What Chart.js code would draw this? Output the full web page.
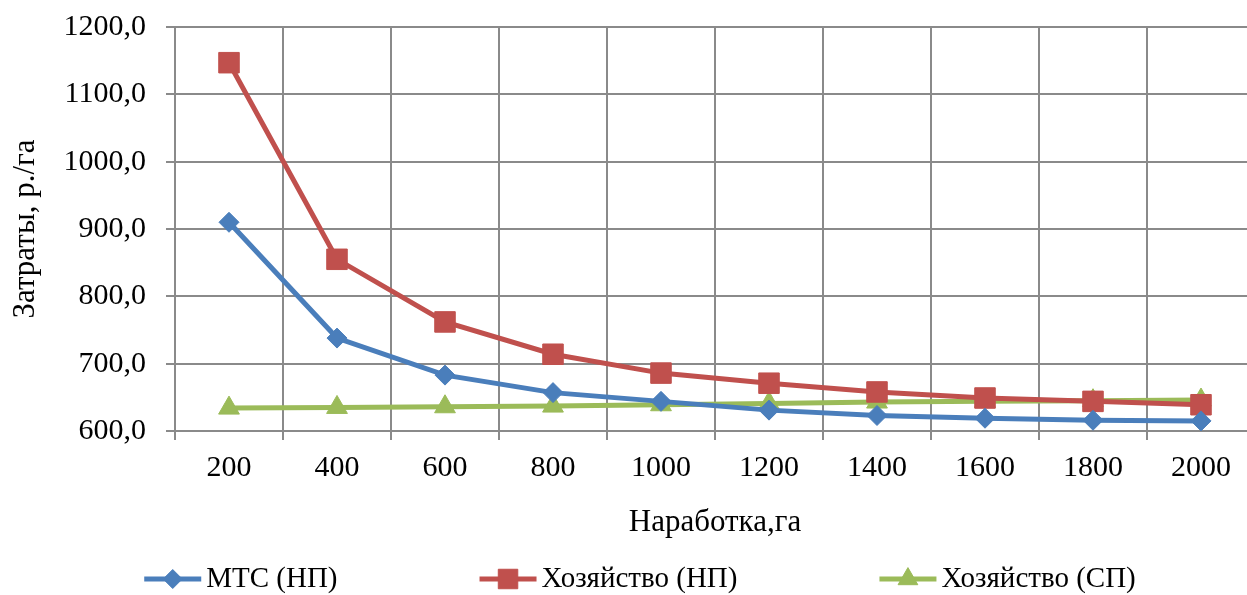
<!DOCTYPE html>
<html><head><meta charset="utf-8">
<script src="https://cdn.jsdelivr.net/npm/chart.js@4/dist/chart.umd.min.js"></script>
<style>html,body{margin:0;padding:0;overflow:hidden;background:#fff}#wrap{width:1247px;height:595px;overflow:hidden;position:relative}#c{position:absolute;left:0;top:0}</style>
</head><body><div id="wrap"><canvas id="c" width="1280" height="595"></canvas></div>
<script>
const categories = ['200','400','600','800','1000','1200','1400','1600','1800','2000'];
const mtsNP  = [910, 738, 683, 657, 644, 631, 623, 619, 616, 615];
const farmNP = [1147, 855, 762, 714, 686, 671, 658, 649, 644, 639];
const farmSP = [634, 635, 636, 637, 639, 641, 643, 644, 645, 646];
const seriesNames = ['МТС (НП)', 'Хозяйство (НП)', 'Хозяйство (СП)'];
const yMin = 600, yMax = 1200, yStep = 100;
const xTitle = 'Наработка,га';
const yTitle = 'Затраты, р./га';

const FONT = "'Liberation Serif', 'Times New Roman', serif";
const GRID = '#8a8a8a';
const colors = ['#4a7ebb', '#c0504d', '#9bbb59'];
const styles = ['rectRot', 'rect', 'triangle'];
const radii = [10, 14.5, 12];

function drawMarker(ctx, style, r, x, y, color) {
  ctx.save();
  ctx.fillStyle = color; ctx.strokeStyle = color; ctx.lineWidth = 1;
  if (Chart.helpers && Chart.helpers.drawPoint) {
    Chart.helpers.drawPoint(ctx, {pointStyle: style, radius: r, rotation: 0, borderWidth: 1}, x, y);
  }
  ctx.restore();
}

const legendPlugin = {
  id: 'customLegend',
  afterDraw(chart) {
    const ctx = chart.ctx;
    ctx.save();
    ctx.font = '29px ' + FONT;
    const lineLen = 57, gapText = 5, gapItem = 142;
    const widths = seriesNames.map(n => lineLen + gapText + ctx.measureText(n).width);
    const total = widths.reduce((a, b) => a + b, 0) + gapItem * (widths.length - 1);
    let x = 640 - total / 2;
    const y = 579;
    chart.data.datasets.forEach((ds, i) => {
      ctx.strokeStyle = ds.borderColor; ctx.lineWidth = 5; ctx.lineCap = 'butt';
      ctx.beginPath(); ctx.moveTo(x, y); ctx.lineTo(x + lineLen, y); ctx.stroke();
      drawMarker(ctx, ds.pointStyle, ds.pointRadius * 0.95, x + lineLen / 2, y, ds.borderColor);
      ctx.fillStyle = '#000'; ctx.textBaseline = 'middle'; ctx.textAlign = 'left';
      ctx.fillText(ds.label, x + lineLen + gapText, y);
      x += widths[i] + gapItem;
    });
    ctx.restore();
  }
};

const seriesData = [mtsNP, farmNP, farmSP];
const datasets = seriesData.map((d, i) => ({
  label: seriesNames[i],
  data: d,
  borderColor: colors[i],
  backgroundColor: colors[i],
  borderWidth: 5,
  pointStyle: styles[i],
  pointRadius: radii[i],
  pointHoverRadius: radii[i],
  pointBorderWidth: 1,
  pointBackgroundColor: colors[i],
  pointBorderColor: colors[i],
  tension: 0,
  fill: false
}));

new Chart(document.getElementById('c'), {
  type: 'line',
  data: {labels: categories, datasets},
  options: {
    responsive: false,
    animation: false,
    devicePixelRatio: 1,
    layout: {padding: {top: 27, left: 0, right: 25, bottom: 54}},
    plugins: {legend: {display: false}, tooltip: {enabled: false}, title: {display: false}},
    scales: {
      x: {
        offset: true,
        grid: {offset: true, lineWidth: 2, tickLength: 9, drawTicks: true,
          color: c => (c.index === categories.length ? 'rgba(0,0,0,0)' : GRID)},
        border: {color: GRID, width: 2},
        ticks: {color: '#000', font: {family: FONT, size: 30}, padding: 10, maxRotation: 0, autoSkip: false},
        title: {display: true, text: xTitle, color: '#000', font: {family: FONT, size: 31}, padding: {top: 0, bottom: 0}},
        afterFit(s) { s.height = 110; s.paddingLeft = 0; s.paddingRight = 0; }
      },
      y: {
        min: yMin, max: yMax,
        grid: {color: GRID, lineWidth: 2, tickLength: 9},
        border: {color: GRID, width: 2},
        ticks: {stepSize: yStep, color: '#000', font: {family: FONT, size: 30}, padding: 20,
          callback: v => v.toFixed(1).replace('.', ',')},
        title: {display: true, text: yTitle, color: '#000', font: {family: FONT, size: 31}, padding: {top: 7, bottom: 0}},
        afterFit(s) { s.width = 175; s.paddingTop = 0; s.paddingBottom = 0; }
      }
    }
  },
  plugins: [legendPlugin]
});
</script></body></html>
